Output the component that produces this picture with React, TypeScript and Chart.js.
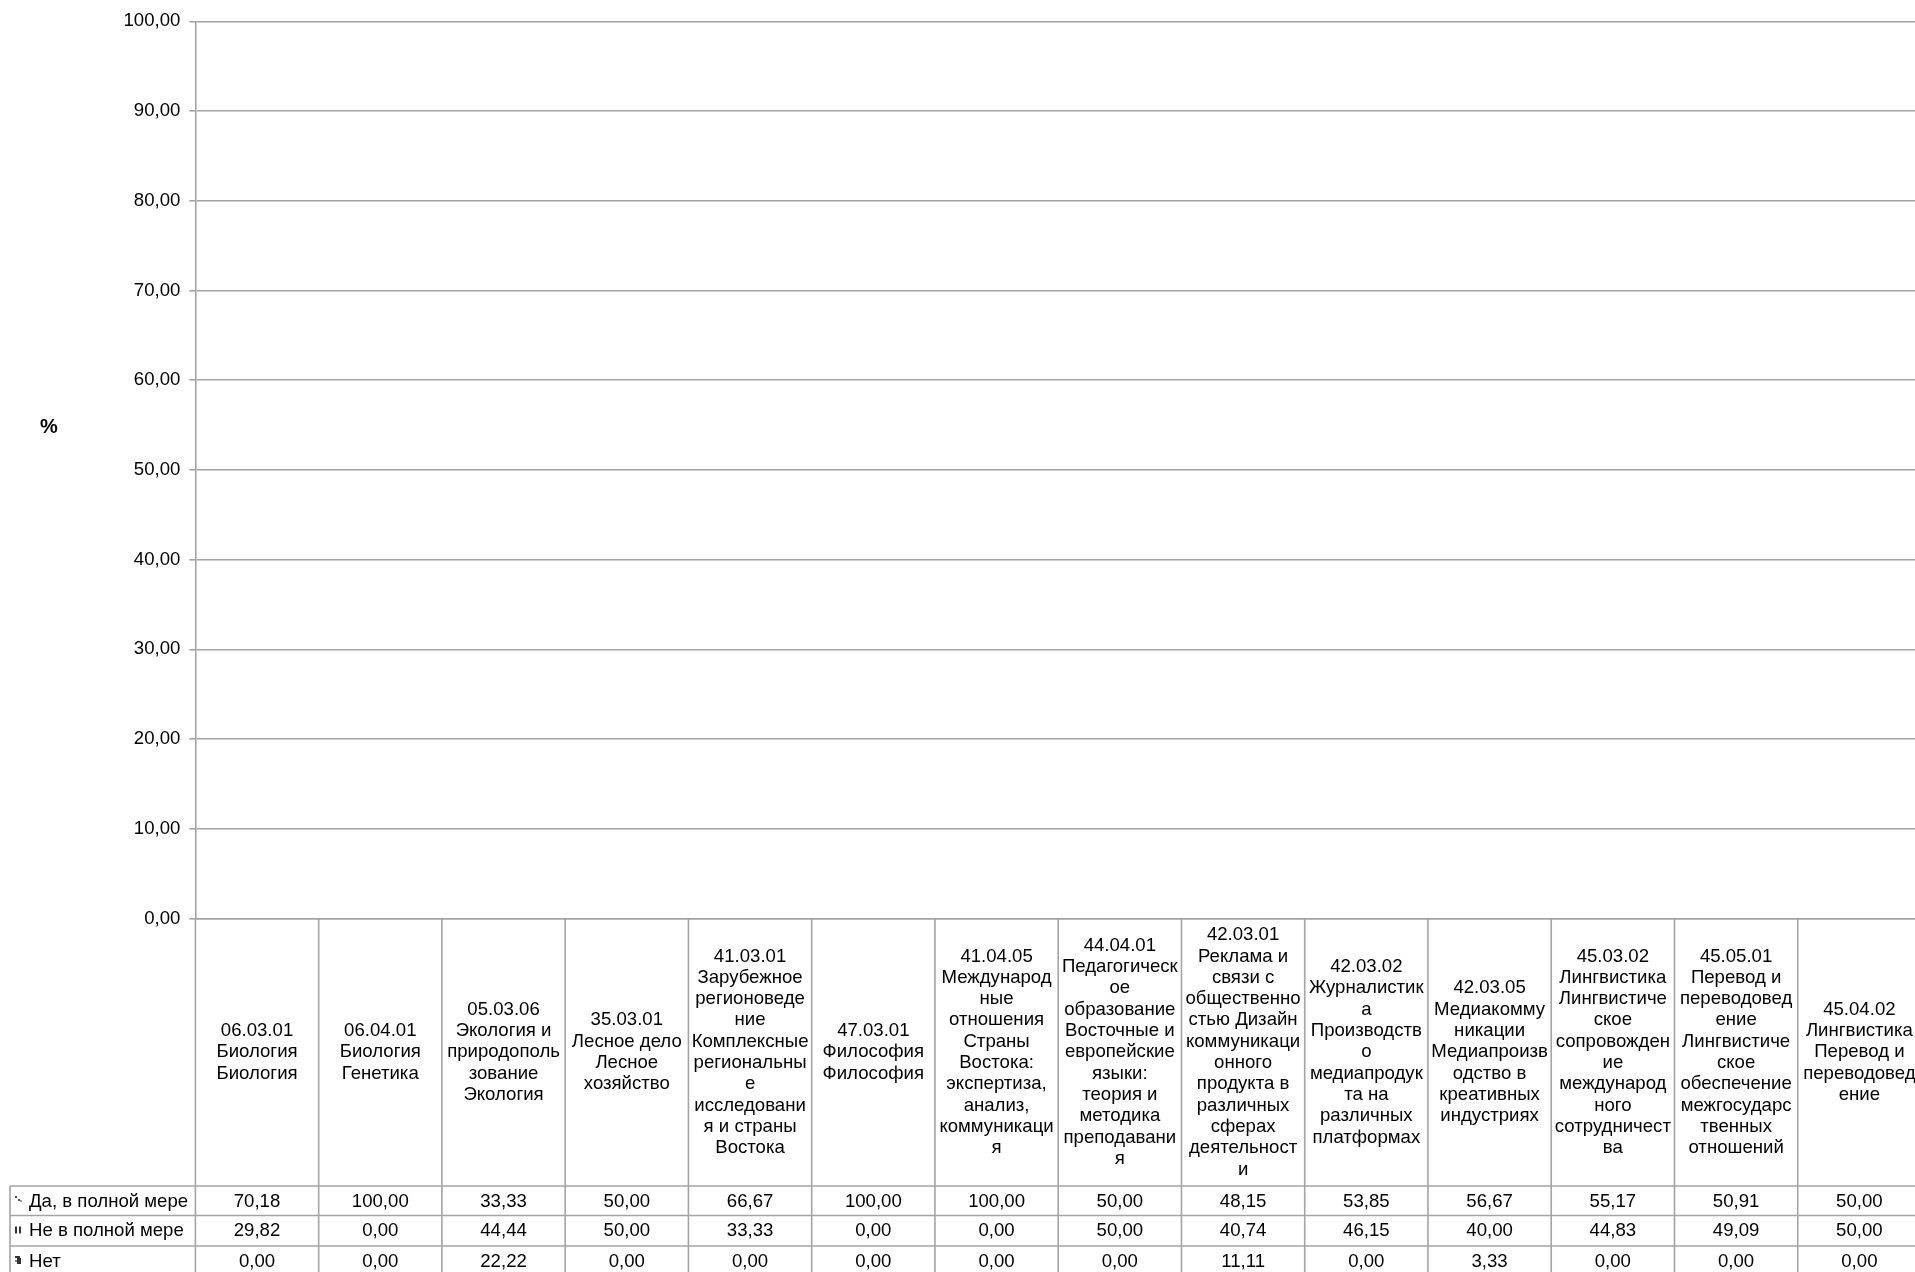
import React, { useEffect, useRef } from "react";
import { Chart, registerables } from "chart.js";

Chart.register(...registerables);

const categories: string[][] = [
  ["06.03.01", "Биология", "Биология"],
  ["06.04.01", "Биология", "Генетика"],
  ["05.03.06", "Экология и", "природополь", "зование", "Экология"],
  ["35.03.01", "Лесное дело", "Лесное", "хозяйство"],
  ["41.03.01", "Зарубежное", "регионоведе", "ние", "Комплексные", "региональны", "е", "исследовани", "я и страны", "Востока"],
  ["47.03.01", "Философия", "Философия"],
  ["41.04.05", "Международ", "ные", "отношения", "Страны", "Востока:", "экспертиза,", "анализ,", "коммуникаци", "я"],
  ["44.04.01", "Педагогическ", "ое", "образование", "Восточные и", "европейские", "языки:", "теория и", "методика", "преподавани", "я"],
  ["42.03.01", "Реклама и", "связи с", "общественно", "стью Дизайн", "коммуникаци", "онного", "продукта в", "различных", "сферах", "деятельност", "и"],
  ["42.03.02", "Журналистик", "а", "Производств", "о", "медиапродук", "та на", "различных", "платформах"],
  ["42.03.05", "Медиакомму", "никации", "Медиапроизв", "одство в", "креативных", "индустриях"],
  ["45.03.02", "Лингвистика", "Лингвистиче", "ское", "сопровожден", "ие", "международ", "ного", "сотрудничест", "ва"],
  ["45.05.01", "Перевод и", "переводовед", "ение", "Лингвистиче", "ское", "обеспечение", "межгосударс", "твенных", "отношений"],
  ["45.04.02", "Лингвистика", "Перевод и", "переводовед", "ение"],
];

const seriesNames: string[] = ["Да, в полной мере", "Не в полной мере", "Нет"];

const yesFull: number[] = [70.18, 100.0, 33.33, 50.0, 66.67, 100.0, 100.0, 50.0, 48.15, 53.85, 56.67, 55.17, 50.91, 50.0];
const notFull: number[] = [29.82, 0.0, 44.44, 50.0, 33.33, 0.0, 0.0, 50.0, 40.74, 46.15, 40.0, 44.83, 49.09, 50.0];
const noValues: number[] = [0.0, 0.0, 22.22, 0.0, 0.0, 0.0, 0.0, 0.0, 11.11, 0.0, 3.33, 0.0, 0.0, 0.0];

const yTickMin = 0;
const yTickMax = 100;
const yTickStep = 10;
const yTitle = "%";

const FONT = "'Liberation Sans', Arial, sans-serif";
const FS = 18.6;
const GRID = "#a4a4a4";
const CW = 1925;
const CH = 1280;

const fmt = (v: number) => v.toFixed(2).replace(".", ",");

const tablePlugin = {
  id: "dataTable",
  afterDraw(chart: any) {
    const ctx: CanvasRenderingContext2D = chart.ctx;
    const area = chart.chartArea;
    const n = chart.data.labels.length;
    const w = (area.right - area.left) / n;
    const headBottom = 1186;
    const rowTops = [1186, 1215.5, 1246];
    const rowH = 30;
    ctx.save();
    ctx.strokeStyle = GRID;
    ctx.lineWidth = 1.6;
    for (let k = 0; k <= n; k++) {
      const x = area.left + k * w;
      ctx.beginPath();
      ctx.moveTo(x, area.bottom);
      ctx.lineTo(x, CH);
      ctx.stroke();
    }
    ctx.beginPath();
    ctx.moveTo(10, headBottom);
    ctx.lineTo(10, CH);
    ctx.stroke();
    rowTops.forEach((y) => {
      ctx.beginPath();
      ctx.moveTo(10, y);
      ctx.lineTo(CW, y);
      ctx.stroke();
    });
    ctx.fillStyle = "#000";
    ctx.font = `${FS}px ${FONT}`;
    ctx.textAlign = "center";
    ctx.textBaseline = "middle";
    const lh = 21.3;
    const midY = (area.bottom + headBottom) / 2;
    (chart.data.labels as string[][]).forEach((lines, i) => {
      const cx = area.left + (i + 0.5) * w;
      const y0 = midY - ((lines.length - 1) * lh) / 2;
      lines.forEach((ln, j) => ctx.fillText(ln, cx, y0 + j * lh));
    });
    chart.data.datasets.forEach((ds: any, r: number) => {
      const cy = rowTops[r] + rowH / 2 + 0.5;
      ctx.textAlign = "center";
      (ds.data as number[]).forEach((v, i) => {
        const cx = area.left + (i + 0.5) * w;
        ctx.fillText(fmt(v), cx, cy);
      });
      ctx.textAlign = "left";
      ctx.fillText(ds.label, 29, cy);
    });
    const c0 = rowTops[0] + rowH / 2;
    ctx.fillStyle = "#555";
    ctx.fillRect(15, c0 - 5, 2, 2);
    ctx.fillRect(18, c0 - 2, 2, 2);
    ctx.fillStyle = "#999";
    ctx.fillRect(20, c0 - 1, 2, 2);
    const c1 = rowTops[1] + rowH / 2;
    ctx.fillStyle = "#333";
    ctx.fillRect(15, c1 - 4, 2, 7);
    ctx.fillRect(19, c1 - 4, 2, 7);
    const c2 = rowTops[2] + rowH / 2;
    ctx.fillStyle = "#333";
    ctx.fillRect(15, c2 - 5, 5, 2);
    ctx.fillRect(17, c2 - 3, 4, 6);
    ctx.fillStyle = "#888";
    ctx.fillRect(15, c2 - 1, 2, 2);
    ctx.fillStyle = "#000";
    ctx.font = `bold 20px ${FONT}`;
    ctx.textAlign = "center";
    ctx.fillText(chart.options.plugins.yTitleText, 49, 427);
    ctx.restore();
  },
};

export default function App() {
  const ref = useRef<HTMLCanvasElement | null>(null);
  useEffect(() => {
    if (!ref.current) return;
    Chart.defaults.font.family = FONT;
    const chart = new Chart(ref.current, {
      type: "bar",
      data: {
        labels: categories,
        datasets: [
          { label: seriesNames[0], data: yesFull, backgroundColor: "rgba(0,0,0,0)", borderWidth: 0 },
          { label: seriesNames[1], data: notFull, backgroundColor: "rgba(0,0,0,0)", borderWidth: 0 },
          { label: seriesNames[2], data: noValues, backgroundColor: "rgba(0,0,0,0)", borderWidth: 0 },
        ],
      },
      options: {
        responsive: false,
        animation: false,
        devicePixelRatio: 1,
        layout: { padding: { left: 0, right: 4, top: 21.3, bottom: 0 } },
        plugins: {
          legend: { display: false },
          tooltip: { enabled: false },
          yTitleText: yTitle,
        } as any,
        scales: {
          x: {
            offset: true,
            grid: { display: false },
            border: { display: true, color: GRID, width: 1.6 },
            ticks: { display: false },
            afterFit: (s: any) => {
              s.height = CH - 918.5;
            },
          },
          y: {
            min: yTickMin,
            max: yTickMax,
            ticks: {
              stepSize: yTickStep,
              color: "#000",
              font: { size: FS, family: FONT },
              padding: 9,
              callback: (v: any) => fmt(Number(v)),
            },
            grid: { color: GRID, lineWidth: 1.6, tickLength: 6, drawTicks: true },
            border: { display: true, color: GRID, width: 1.6 },
            afterFit: (s: any) => {
              s.width = 195.4;
            },
          },
        },
      },
      plugins: [tablePlugin],
    } as any);
    return () => chart.destroy();
  }, []);
  return (
    <div style={{ position: "fixed", left: 0, top: 0, width: 1915, height: 1272, overflow: "hidden", background: "#fff" }}>
      <canvas ref={ref} width={CW} height={CH} style={{ display: "block", width: CW, height: CH }} />
    </div>
  );
}
